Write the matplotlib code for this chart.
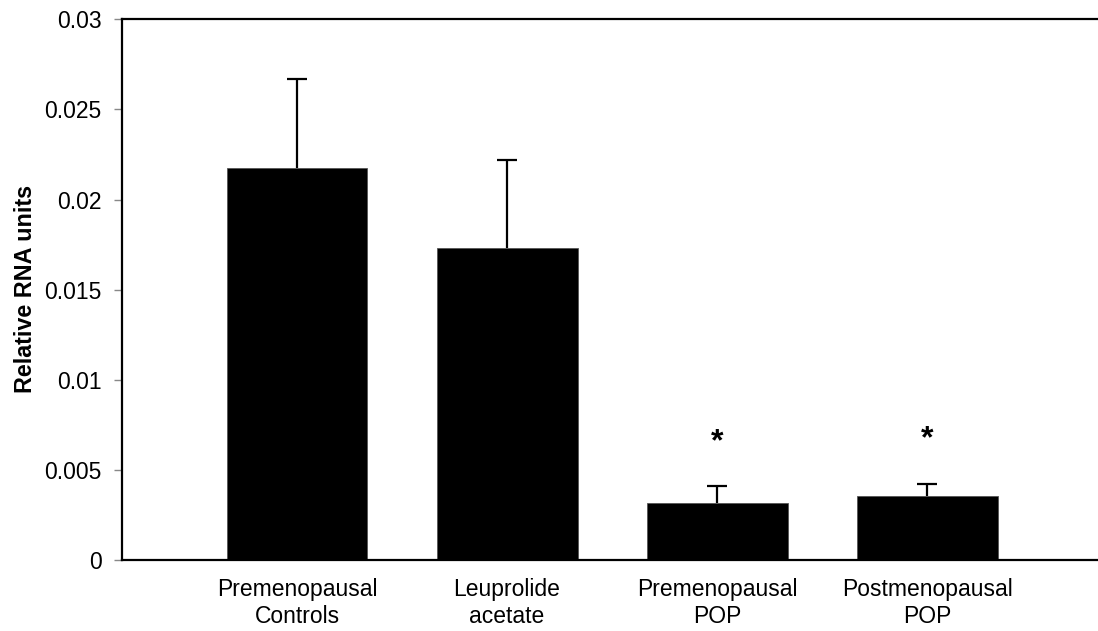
import matplotlib
matplotlib.use('Agg')
from matplotlib import pyplot as plt
import numpy as np

plt.rcParams['font.family'] = ['Liberation Sans', 'DejaVu Sans']

groups = ['Premenopausal\nControls', 'Leuprolide\nacetate',
          'Premenopausal\nPOP', 'Postmenopausal\nPOP']
rna = [0.02173, 0.01733, 0.00314, 0.00357]
err_up = [0.00496, 0.00485, 0.00095, 0.00066]
signif = ['', '', '*', '*']
yticks = [0, 0.005, 0.01, 0.015, 0.02, 0.025, 0.03]
ytick_labels = ['0', '0.005', '0.01', '0.015', '0.02', '0.025', '0.03']

fig = plt.figure(figsize=(10.98, 6.31), dpi=100)
ax = fig.add_axes([0.1114, 0.1125, 0.8886, 0.8569])

x = np.arange(len(groups))
ax.bar(x, rna, width=0.671, color='black', edgecolor='#555555', linewidth=0.6, zorder=2)
# one-sided (upper) error bars only
eb = ax.errorbar(x, rna, yerr=[np.zeros(len(rna)), err_up], fmt='none', ecolor='black',
                 elinewidth=1.6, capsize=7, capthick=1.6, zorder=1)
eb[1][0].set_visible(False)

for xi, v, e, s in zip(x, rna, err_up, signif):
    if s:
        ax.annotate(s, xy=(xi, v + e), xytext=(0, 32), textcoords='offset points',
                    ha='center', va='center', fontsize=23, fontweight='bold')

ax.set_xlim(-0.832, 3.814)
ax.set_ylim(0, 0.03)
ax.set_yticks(yticks)
ax.set_yticklabels(ytick_labels, fontsize=16.5)
ax.set_xticks(x)
ax.set_xticklabels(groups, fontsize=16.5, linespacing=1.2)
ax.tick_params(axis='y', direction='out', length=6, width=1, color='#888888', pad=9)
ax.tick_params(axis='x', length=0, pad=13)

ax.spines['right'].set_visible(False)
for sp in ['left', 'top', 'bottom']:
    ax.spines[sp].set_linewidth(1.6)
    ax.spines[sp].set_color('black')

fig.text(0.0228, 0.542, 'Relative RNA units', rotation=90, ha='center', va='center',
         fontsize=16.8, fontweight='bold')

fig.savefig('out.png', dpi=100)
